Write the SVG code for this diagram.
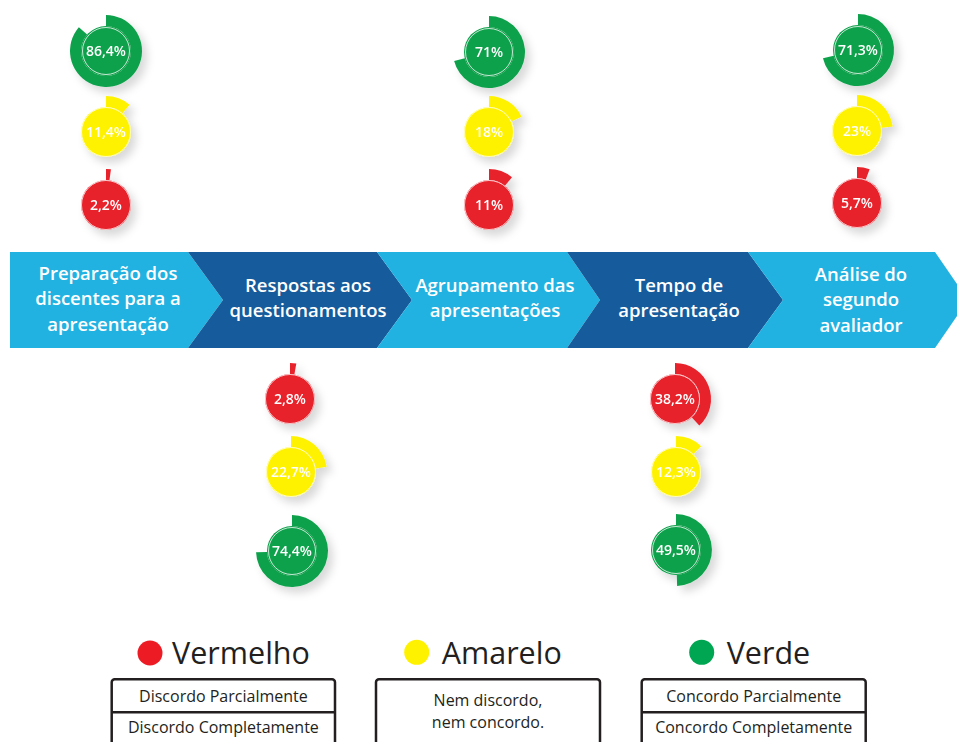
<svg xmlns="http://www.w3.org/2000/svg" width="957" height="742" viewBox="0 0 957 742">
<defs>
<filter id="sh" x="-50%" y="-50%" width="200%" height="200%">
<feDropShadow dx="5" dy="6" stdDeviation="4.5" flood-color="#000" flood-opacity="0.15"/>
</filter>
</defs>
<style>
.g{fill:#0fa14b}.y{fill:#fff200}.r{fill:#e8202a}
.ln{fill:none;stroke:#fff;stroke-width:1;stroke-opacity:0.75}
.pct{font-family:"Open Sans",sans-serif;font-weight:600;font-size:14px;fill:#fff;text-anchor:middle}
.light{fill:#22b2e1}.dark{fill:#165b9b}
.st{font-family:"Open Sans",sans-serif;font-weight:600;font-size:18.5px;fill:#fff;text-anchor:middle}
.lt{font-family:"Open Sans",sans-serif;font-size:30.5px;fill:#231f20}
.bx{fill:#fff;stroke:#231f20;stroke-width:2.5}
.bt{font-family:"Open Sans",sans-serif;font-size:16px;fill:#231f20;text-anchor:middle}
</style>
<rect width="957" height="742" fill="#fff"/>

<!-- process band -->
<g id="stage1"><path class="light" d="M10,252 L188,252 L223,300 L188,348 L10,348 Z"/>
<text class="st" x="108" y="279.5">Preparação dos</text><text class="st" x="108" y="305">discentes para a</text><text class="st" x="108" y="330.5">apresentação</text></g>
<g id="stage2"><path class="dark" d="M188,252 L377,252 L412,300 L377,348 L188,348 L223,300 Z"/>
<text class="st" x="308" y="291.5">Respostas aos</text><text class="st" x="308" y="316.5">questionamentos</text></g>
<g id="stage3"><path class="light" d="M377,252 L567,252 L600,300 L567,348 L377,348 L412,300 Z"/>
<text class="st" x="495" y="291.5">Agrupamento das</text><text class="st" x="495" y="316.5">apresentações</text></g>
<g id="stage4"><path class="dark" d="M567,252 L748,252 L783,300 L748,348 L567,348 L600,300 Z"/>
<text class="st" x="679" y="291.5">Tempo de</text><text class="st" x="679" y="316.5">apresentação</text></g>
<g id="stage5"><path class="light" d="M748,252 L935,252 L968,300 L935,348 L748,348 L783,300 Z"/>
<text class="st" x="861" y="280.5">Análise do</text><text class="st" x="861" y="306">segundo</text><text class="st" x="861" y="331.5">avaliador</text></g>

<!-- gauges column 1 -->
<g id="g1-verde" transform="translate(106,51)" filter="url(#sh)"><circle class="g" r="25"/><path class="g" d="M0,-36 A36,36 0 1 1 -27.15,-23.64 L-18.86,-16.42 A25,25 0 1 0 0,-25 Z"/><circle class="ln" r="23.5"/><text class="pct" y="5">86,4%</text></g>
<g id="g1-amarelo" transform="translate(106,132)" filter="url(#sh)"><circle class="y" r="25"/><path class="y" d="M0,-36 A36,36 0 0 1 23.64,-27.15 L16.42,-18.86 A25,25 0 0 0 0,-25 Z"/><circle class="ln" r="24.5" stroke-opacity="0.5"/><text class="pct" y="5">11,4%</text></g>
<g id="g1-vermelho" transform="translate(106,205)" filter="url(#sh)"><circle class="r" r="25"/><path class="r" d="M0,-36 A36,36 0 0 1 4.96,-35.66 L3.44,-24.76 A25,25 0 0 0 0,-25 Z"/><circle class="ln" r="24.5" stroke-opacity="0.5"/><text class="pct" y="5">2,2%</text></g>

<!-- gauges column 3 -->
<g id="g3-verde" transform="translate(489,52)" filter="url(#sh)"><circle class="g" r="25"/><path class="g" d="M0,-36 A36,36 0 1 1 -34.87,8.95 L-24.21,6.22 A25,25 0 1 0 0,-25 Z"/><circle class="ln" r="23.5"/><text class="pct" y="5">71%</text></g>
<g id="g3-amarelo" transform="translate(489,132)" filter="url(#sh)"><circle class="y" r="25"/><path class="y" d="M0,-36 A36,36 0 0 1 32.57,-15.33 L22.62,-10.64 A25,25 0 0 0 0,-25 Z"/><circle class="ln" r="24.5" stroke-opacity="0.5"/><text class="pct" y="5">18%</text></g>
<g id="g3-vermelho" transform="translate(489,205)" filter="url(#sh)"><circle class="r" r="25"/><path class="r" d="M0,-36 A36,36 0 0 1 22.95,-27.74 L15.93,-19.26 A25,25 0 0 0 0,-25 Z"/><circle class="ln" r="24.5" stroke-opacity="0.5"/><text class="pct" y="5">11%</text></g>

<!-- gauges column 5 -->
<g id="g5-verde" transform="translate(858,50)" filter="url(#sh)"><circle class="g" r="25"/><path class="g" d="M0,-36 A36,36 0 1 1 -35.03,8.29 L-24.33,5.76 A25,25 0 1 0 0,-25 Z"/><circle class="ln" r="23.5"/><text class="pct" y="5">71,3%</text></g>
<g id="g5-amarelo" transform="translate(857,131)" filter="url(#sh)"><circle class="y" r="25"/><path class="y" d="M0,-36 A36,36 0 0 1 35.72,-4.51 L24.80,-3.13 A25,25 0 0 0 0,-25 Z"/><circle class="ln" r="24.5" stroke-opacity="0.5"/><text class="pct" y="5">23%</text></g>
<g id="g5-vermelho" transform="translate(857,203)" filter="url(#sh)"><circle class="r" r="25"/><path class="r" d="M0,-36 A36,36 0 0 1 12.62,-33.72 L8.76,-23.42 A25,25 0 0 0 0,-25 Z"/><circle class="ln" r="24.5" stroke-opacity="0.5"/><text class="pct" y="5">5,7%</text></g>

<!-- gauges column 2 (below) -->
<g id="g2-vermelho" transform="translate(290,399)" filter="url(#sh)"><circle class="r" r="25"/><path class="r" d="M0,-36 A36,36 0 0 1 6.30,-35.45 L4.38,-24.62 A25,25 0 0 0 0,-25 Z"/><circle class="ln" r="24.5" stroke-opacity="0.5"/><text class="pct" y="5">2,8%</text></g>
<g id="g2-amarelo" transform="translate(291,472)" filter="url(#sh)"><circle class="y" r="25"/><path class="y" d="M0,-36 A36,36 0 0 1 35.63,-5.18 L24.74,-3.60 A25,25 0 0 0 0,-25 Z"/><circle class="ln" r="24.5" stroke-opacity="0.5"/><text class="pct" y="5">22,7%</text></g>
<g id="g2-verde" transform="translate(292,551)" filter="url(#sh)"><circle class="g" r="25"/><path class="g" d="M0,-36 A36,36 0 1 1 -35.97,1.36 L-24.98,0.94 A25,25 0 1 0 0,-25 Z"/><circle class="ln" r="23.5"/><text class="pct" y="5">74,4%</text></g>

<!-- gauges column 4 (below) -->
<g id="g4-vermelho" transform="translate(675,399)" filter="url(#sh)"><circle class="r" r="25"/><path class="r" d="M0,-36 A36,36 0 0 1 24.31,26.55 L16.88,18.44 A25,25 0 0 0 0,-25 Z"/><circle class="ln" r="24.5" stroke-opacity="0.6"/><text class="pct" y="5">38,2%</text></g>
<g id="g4-amarelo" transform="translate(676,472)" filter="url(#sh)"><circle class="y" r="25"/><path class="y" d="M0,-36 A36,36 0 0 1 25.13,-25.78 L17.45,-17.90 A25,25 0 0 0 0,-25 Z"/><circle class="ln" r="24.5" stroke-opacity="0.5"/><text class="pct" y="5">12,3%</text></g>
<g id="g4-verde" transform="translate(676,550)" filter="url(#sh)"><circle class="g" r="25"/><path class="g" d="M0,-36 A36,36 0 0 1 1.13,35.98 L0.79,24.99 A25,25 0 0 0 0,-25 Z"/><circle class="ln" r="23.5"/><text class="pct" y="5">49,5%</text></g>

<!-- legend -->
<g id="legend-vermelho">
<circle cx="150" cy="653" r="12.5" fill="#ed1c24"/>
<text class="lt" x="172" y="664">Vermelho</text>
<rect class="bx" x="111.7" y="679.3" width="223.3" height="90" rx="3"/>
<line x1="111.7" y1="712.3" x2="335" y2="712.3" stroke="#231f20" stroke-width="2.5"/>
<text class="bt" x="223.4" y="701.5">Discordo Parcialmente</text>
<text class="bt" x="223.4" y="733">Discordo Completamente</text>
</g>
<g id="legend-amarelo">
<circle cx="416.7" cy="652.3" r="12.5" fill="#fff200"/>
<text class="lt" x="441.7" y="664">Amarelo</text>
<rect class="bx" x="376" y="679.3" width="224" height="90" rx="3"/>
<text class="bt" x="488" y="706">Nem discordo,</text>
<text class="bt" x="488" y="728">nem concordo.</text>
</g>
<g id="legend-verde">
<circle cx="701.7" cy="652.3" r="12.5" fill="#00a651"/>
<text class="lt" x="726.7" y="664">Verde</text>
<rect class="bx" x="641.7" y="679.3" width="224" height="90" rx="3"/>
<line x1="641.7" y1="712.3" x2="865.7" y2="712.3" stroke="#231f20" stroke-width="2.5"/>
<text class="bt" x="753.7" y="701.5">Concordo Parcialmente</text>
<text class="bt" x="753.7" y="733">Concordo Completamente</text>
</g>
</svg>
